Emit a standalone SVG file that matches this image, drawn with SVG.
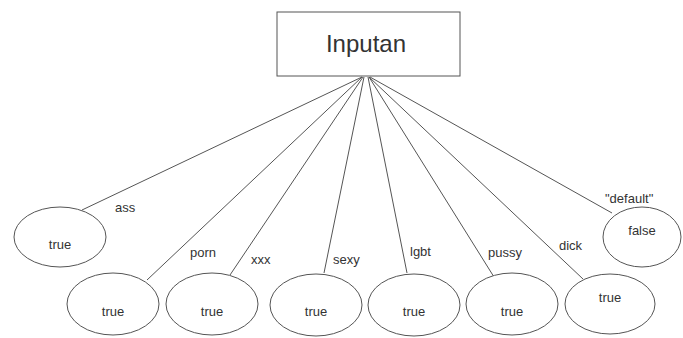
<svg xmlns="http://www.w3.org/2000/svg" width="683" height="338" viewBox="0 0 683 338">
<style>
.n{fill:#fff;stroke:#555;stroke-width:1}
.c{stroke:#555;stroke-width:1;fill:none}
.t{font-family:"Liberation Sans",Arial,sans-serif;font-size:13px;fill:#333}
.m{font-family:"Liberation Sans",Arial,sans-serif;font-size:24px;fill:#333}
</style>
<rect width="683" height="338" fill="#fff"/>
<g id="connectors">
<line class="c" x1="362" y1="77" x2="82" y2="210"/>
<line class="c" x1="362" y1="77" x2="147" y2="280"/>
<line class="c" x1="363" y1="77" x2="230" y2="275"/>
<line class="c" x1="364" y1="77" x2="324" y2="273"/>
<line class="c" x1="368" y1="77" x2="407" y2="273"/>
<line class="c" x1="369" y1="77" x2="494" y2="277"/>
<line class="c" x1="369" y1="77" x2="583" y2="279"/>
<line class="c" x1="370" y1="77" x2="612" y2="213"/>
<text class="t" x="115" y="212">ass</text>
<text class="t" x="190" y="257">porn</text>
<text class="t" x="251" y="264">xxx</text>
<text class="t" x="333" y="264">sexy</text>
<text class="t" x="410" y="256">lgbt</text>
<text class="t" x="488" y="257">pussy</text>
<text class="t" x="559" y="250">dick</text>
<text class="t" x="605" y="203">"default"</text>
</g>
<g id="inputan">
<rect class="n" x="277" y="12" width="183" height="64"/>
<text class="m" x="366" y="52" text-anchor="middle">Inputan</text>
</g>
<g id="n-ass"><ellipse class="n" cx="60" cy="237" rx="46" ry="30"/><text class="t" x="60" y="249" text-anchor="middle">true</text></g>
<g id="n-porn"><ellipse class="n" cx="113" cy="304" rx="46" ry="31"/><text class="t" x="113" y="316" text-anchor="middle">true</text></g>
<g id="n-xxx"><ellipse class="n" cx="212" cy="304" rx="46" ry="31"/><text class="t" x="212" y="316" text-anchor="middle">true</text></g>
<g id="n-sexy"><ellipse class="n" cx="316" cy="305" rx="46" ry="31"/><text class="t" x="316" y="316" text-anchor="middle">true</text></g>
<g id="n-lgbt"><ellipse class="n" cx="414" cy="305" rx="46" ry="31"/><text class="t" x="414" y="316" text-anchor="middle">true</text></g>
<g id="n-pussy"><ellipse class="n" cx="512" cy="304" rx="46" ry="31"/><text class="t" x="512" y="316" text-anchor="middle">true</text></g>
<g id="n-dick"><ellipse class="n" cx="610" cy="304" rx="45" ry="30"/><text class="t" x="610" y="302" text-anchor="middle">true</text></g>
<g id="n-default"><ellipse class="n" cx="642" cy="237" rx="39" ry="30"/><text class="t" x="642" y="235" text-anchor="middle">false</text></g>
</svg>
